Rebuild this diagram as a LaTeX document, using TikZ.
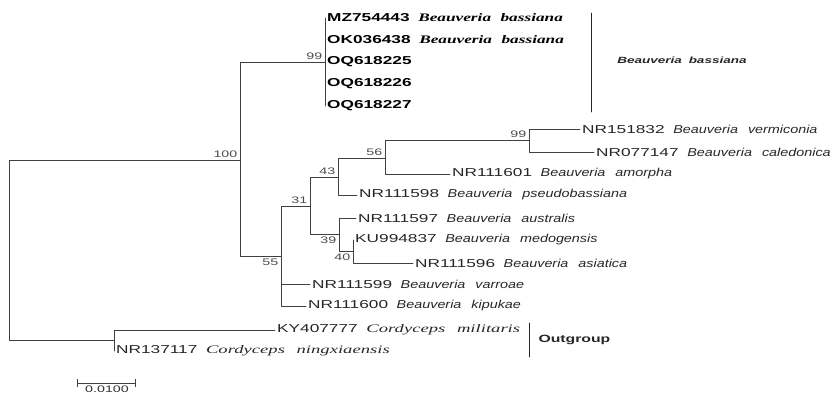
\documentclass[tikz,border=0pt]{standalone}
\usepackage{fontspec}
\setmainfont{Liberation Sans}
\newfontfamily\accfont[FakeStretch=1.5,WordSpace=1.8]{Liberation Sans}
\newfontfamily\accbold[FakeStretch=1.5,WordSpace=1.8]{Liberation Sans Bold}
\newfontfamily\cladefont[FakeStretch=1.5,WordSpace=1.8]{Liberation Sans Bold Italic}
\newfontfamily\specfont[FakeStretch=1.25,WordSpace=2.5]{Liberation Sans Italic}
\newfontfamily\cordfont[FakeStretch=1.62,WordSpace=2.5]{Liberation Serif Italic}
\newfontfamily\bbasfont[FakeStretch=1.5,WordSpace=2.2]{Liberation Serif Bold Italic}
\newcommand{\spec}[1]{{\specfont #1}}
\newcommand{\cord}[1]{{\cordfont #1}}
\newcommand{\bbas}[1]{{\bbasfont #1}}

\begin{document}
\begin{tikzpicture}[x=1pt, y=-1pt, line cap=round, line join=round,
    branch/.style={draw=black!75, line width=0.8pt},
    leaf/.style={anchor=west, inner sep=2pt, font=\accfont\fontsize{11.5}{13}\selectfont, text=black!85},
    bleaf/.style={leaf, font=\accbold\fontsize{11.5}{13}\selectfont, text=black},
    boot/.style={inner sep=2.5pt, font=\accfont\fontsize{9.5}{11}\selectfont, text=black!70},
    clade/.style={font=\cladefont\fontsize{9}{11}\selectfont, text=black!85}]
  \useasboundingbox (0,0) rectangle (835,395);

  \coordinate (root) at (9.5,250);
  \coordinate (n100) at (240,160);
  \coordinate (nbb) at (325,62);
  \coordinate (n55) at (281,256);
  \coordinate (n31) at (310,206);
  \coordinate (n43) at (338,177);
  \coordinate (n56) at (385,158);
  \coordinate (n99) at (529,140);
  \coordinate (n39) at (339,234);
  \coordinate (n40) at (353,251);
  \coordinate (nout) at (114,340);

  \node[bleaf] (mz) at (325,18) {MZ754443 \bbas{Beauveria bassiana}};
  \node[bleaf] (ok) at (325,40) {OK036438 \bbas{Beauveria bassiana}};
  \node[bleaf] (oq25) at (325,62) {OQ618225};
  \node[bleaf] (oq26) at (325,84) {OQ618226};
  \node[bleaf] (oq27) at (325,106) {OQ618227};
  \node[leaf] (verm) at (580,129) {NR151832 \spec{Beauveria vermiconia}};
  \node[leaf] (cale) at (594,152) {NR077147 \spec{Beauveria caledonica}};
  \node[leaf] (amor) at (450,174) {NR111601 \spec{Beauveria amorpha}};
  \node[leaf] (pseu) at (357,195) {NR111598 \spec{Beauveria pseudobassiana}};
  \node[leaf] (aust) at (356,218) {NR111597 \spec{Beauveria australis}};
  \node[leaf] (medo) at (353,240) {KU994837 \spec{Beauveria medogensis}};
  \node[leaf] (asia) at (413,263) {NR111596 \spec{Beauveria asiatica}};
  \node[leaf] (varr) at (310,284) {NR111599 \spec{Beauveria varroae}};
  \node[leaf] (kipu) at (306,306) {NR111600 \spec{Beauveria kipukae}};
  \node[leaf] (ky) at (275,330) {KY407777 \cord{Cordyceps militaris}};
  \node[leaf] (ning) at (114,351) {NR137117 \cord{Cordyceps ningxiaensis}};

  \draw[branch] (root) |- (n100);
  \draw[branch] (root) |- (nout);
  \draw[branch] (n100) |- (nbb);
  \draw[branch] (n100) |- (n55);
  \draw[branch] (nbb) |- (mz.west);
  \draw[branch] (nbb) |- (ok.west);
  \draw[branch] (nbb) |- (oq25.west);
  \draw[branch] (nbb) |- (oq26.west);
  \draw[branch] (nbb) |- (oq27.west);
  \draw[branch] (n55) |- (n31);
  \draw[branch] (n55) |- (varr.west);
  \draw[branch] (n55) |- (kipu.west);
  \draw[branch] (n31) |- (n43);
  \draw[branch] (n31) |- (n39);
  \draw[branch] (n43) |- (n56);
  \draw[branch] (n43) |- (pseu.west);
  \draw[branch] (n56) |- (n99);
  \draw[branch] (n56) |- (amor.west);
  \draw[branch] (n99) |- (verm.west);
  \draw[branch] (n99) |- (cale.west);
  \draw[branch] (n39) |- (aust.west);
  \draw[branch] (n39) |- (n40);
  \draw[branch] (n40) |- (medo.west);
  \draw[branch] (n40) |- (asia.west);
  \draw[branch] (nout) |- (ky.west);
  \draw[branch] (nout) |- (ning.west);

  \node[boot, above left] (b100) at (n100) {100};
  \node[boot, above left] (b99a) at (nbb) {99};
  \node[boot, below left] (b55) at (n55) {55};
  \node[boot, above left] (b31) at (n31) {31};
  \node[boot, above left] (b43) at (n43) {43};
  \node[boot, above left] (b56) at (n56) {56};
  \node[boot, above left] (b99b) at (n99) {99};
  \node[boot, below left] (b39) at (n39) {39};
  \node[boot, below left] (b40) at (n40) {40};

  \coordinate (bbtop) at (591,13);
  \coordinate (bbbot) at (591,112);
  \draw[branch, black!85] (bbtop) -- (bbbot);
  \node[clade] (bblab) at (682,60) {Beauveria bassiana};
  \coordinate (outtop) at (529,323);
  \coordinate (outbot) at (529,357);
  \draw[branch, black!85] (outtop) -- (outbot);
  \node[clade, font=\accbold\fontsize{10.5}{12}\selectfont, anchor=west] (outlab) at (535,340) {Outgroup};

  \coordinate (sb1) at (77,383);
  \coordinate (sb2) at (136,383);
  \draw[branch, |-|] (sb1) -- (sb2);
  \node[boot, font=\accfont\fontsize{9.5}{11}\selectfont, text=black!80] (sblab) at (107,389) {0.0100};
\end{tikzpicture}
\end{document}
